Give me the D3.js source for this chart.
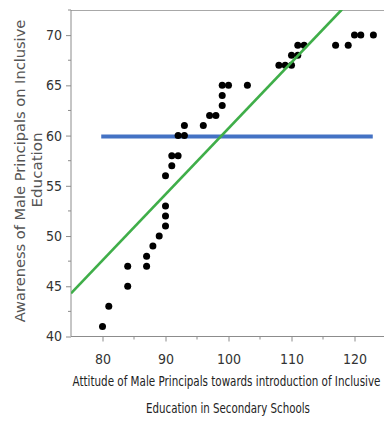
<!DOCTYPE html>
<html>
<head>
<meta charset="utf-8">
<script src="https://cdn.jsdelivr.net/npm/d3@7"></script>
<style>
  html, body { margin: 0; padding: 0; background: #fff; }
  svg { display: block; }
  .narrow { font-family: "Liberation Sans Narrow", "DejaVu Sans Condensed", "Liberation Sans", sans-serif; }
</style>
</head>
<body>
<svg id="chart" width="384" height="421"></svg>
<script>
// Attitude score (x) and awareness score (y) for each principal
const attitude = [80, 81, 84, 84, 87, 87, 88, 89, 90, 90, 90, 90, 91, 91, 92, 92, 93, 93, 96, 97, 98,
                  99, 99, 99, 100, 103, 108, 109, 110, 110, 111, 111, 112, 117, 119, 120, 121, 123];
const awareness = [41, 43, 45, 47, 47, 48, 49, 50, 51, 52, 53, 56, 57, 58, 58, 60, 60, 61, 61, 62, 62,
                   63, 64, 65, 65, 65, 67, 67, 67, 68, 68, 69, 69, 69, 69, 70, 70, 70];

// Fitted regression line and mean line endpoints
const fitX = [75, 118];
const fitY = [44.3, 72.55];
const meanX = [79.8, 122.9];
const meanY = [59.9, 59.9];

// Tick values
const xTicks = [80, 90, 100, 110, 120];
const xMinor = [85, 95, 105, 115, 125];
const yTicks = [40, 45, 50, 55, 60, 65, 70];
const yMinor = [42.5, 47.5, 52.5, 57.5, 62.5, 67.5, 72.5];

const xLabel = ["Attitude of Male Principals towards introduction of Inclusive",
                "Education in Secondary Schools"];
const yLabel = ["Awareness of Male Principals on Inclusive", "Education"];

const svg = d3.select("#chart");
const m = { left: 71, right: 386, top: 10, bottom: 336.5 };

const x = d3.scaleLinear().domain([75, 125]).range([m.left, m.right]);
const y = d3.scaleLinear().domain([40, 72.5]).range([m.bottom, m.top]);

const axisColor = "#8c8c8c";

svg.append("defs").append("clipPath").attr("id", "plotClip")
  .append("rect").attr("x", m.left).attr("y", m.top)
  .attr("width", m.right - m.left).attr("height", m.bottom - m.top);

// top frame line
svg.append("line").attr("x1", m.left).attr("x2", 384).attr("y1", m.top + 0.5).attr("y2", m.top + 0.5)
  .attr("stroke", "#a8a8a8").attr("stroke-width", 1);

// Axes
const gx = svg.append("g").attr("transform", `translate(0,${m.bottom})`)
  .call(d3.axisBottom(x).tickValues(xTicks).tickSize(5).tickPadding(13).tickSizeOuter(0));
gx.append("g").selectAll("line").data(xMinor).join("line")
  .attr("x1", d => x(d)).attr("x2", d => x(d)).attr("y1", 0).attr("y2", 3).attr("stroke", axisColor);

const gy = svg.append("g").attr("transform", `translate(${m.left},0)`)
  .call(d3.axisLeft(y).tickValues(yTicks).tickSize(5).tickPadding(4).tickSizeOuter(0));
gy.append("g").selectAll("line").data(yMinor).join("line")
  .attr("y1", d => y(d)).attr("y2", d => y(d)).attr("x1", 0).attr("x2", -3).attr("stroke", axisColor);

[gx, gy].forEach(g => {
  g.select(".domain").attr("stroke", axisColor);
  g.selectAll(".tick line").attr("stroke", axisColor);
  g.selectAll(".tick text").attr("class", "narrow").attr("font-size", 14).attr("fill", "#333");
});
gy.select(".domain").attr("d", `M0,${m.bottom}V${m.top}`);
gx.select(".domain").attr("d", `M${m.left},0H384`);

const plot = svg.append("g").attr("clip-path", "url(#plotClip)");

// Mean line
plot.append("line")
  .attr("x1", x(meanX[0])).attr("x2", x(meanX[1]))
  .attr("y1", y(meanY[0])).attr("y2", y(meanY[1]))
  .attr("stroke", "#4472c4").attr("stroke-width", 4);

// Points
plot.append("g").selectAll("circle").data(attitude).join("circle")
  .attr("cx", d => x(d)).attr("cy", (d, i) => y(awareness[i]))
  .attr("r", 3.5).attr("fill", "#000");

// Fit line
plot.append("line")
  .attr("x1", x(fitX[0])).attr("x2", x(fitX[1]))
  .attr("y1", y(fitY[0])).attr("y2", y(fitY[1]))
  .attr("stroke", "#3fae49").attr("stroke-width", 2.6);

// Title text squeezed horizontally to a target width, keeping glyph height
function fittedText(cx, cy, rot, width, txt, cls, family, size, fill) {
  const g = svg.append("g").attr("transform", `translate(${cx},${cy}) rotate(${rot})`);
  const t = g.append("text").attr("text-anchor", "middle")
    .attr("font-size", size).attr("fill", fill).text(txt);
  if (cls) t.attr("class", cls);
  if (family) t.attr("font-family", family);
  const natural = t.node().getComputedTextLength();
  t.attr("transform", `scale(${width / natural},1)`);
  return t;
}

// X axis title
fittedText(226.5, 386, 0, 308, xLabel[0], "narrow", null, 14, "#222");
fittedText(228, 413, 0, 164, xLabel[1], "narrow", null, 14, "#222");

// Y axis title
fittedText(25, 171, -90, 303, yLabel[0], null, "DejaVu Sans, sans-serif", 14, "#555");
fittedText(42, 170, -90, 75, yLabel[1], null, "DejaVu Sans, sans-serif", 14, "#555");
</script>
</body>
</html>
